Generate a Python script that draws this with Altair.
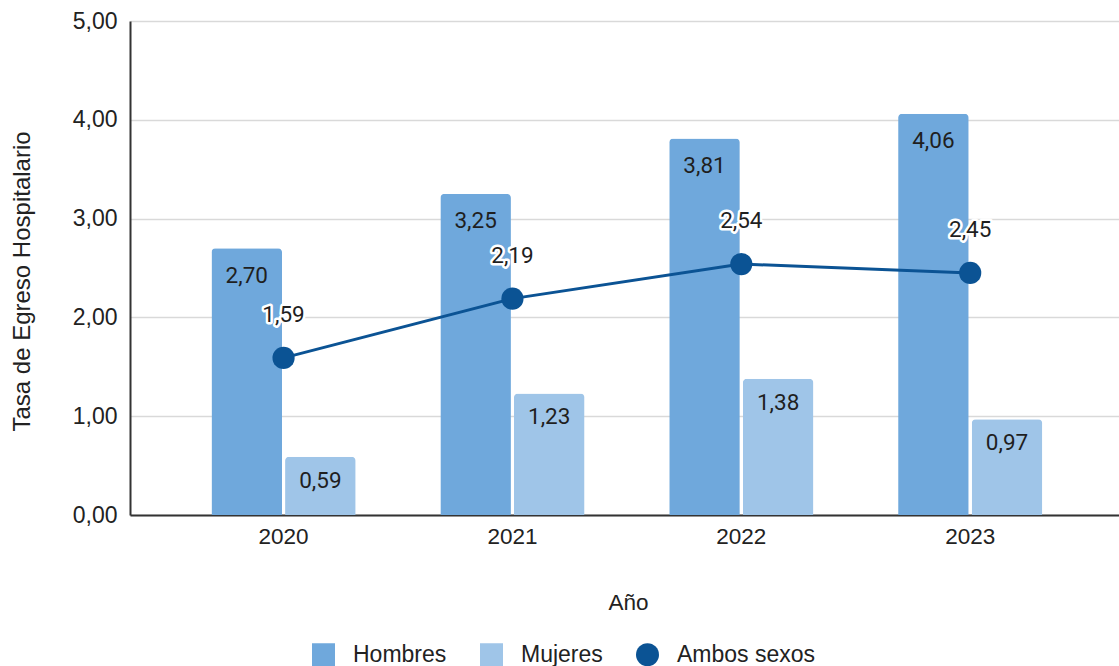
import altair as alt
import pandas as pd

years = ["2020", "2021", "2022", "2023"]
hombres = [2.70, 3.25, 3.81, 4.06]
mujeres = [0.59, 1.23, 1.38, 0.97]
ambos = [1.59, 2.19, 2.54, 2.45]
series = ["Hombres", "Mujeres", "Ambos sexos"]
colors = ["#6fa8dc", "#9fc5e8", "#0b5394"]
shapes = ["square", "square", "circle"]
y_ticks = [0, 1, 2, 3, 4, 5]

bars_df = pd.DataFrame({
    "Año": years * 2,
    "Serie": ["Hombres"] * 4 + ["Mujeres"] * 4,
    "Valor": hombres + mujeres,
})
line_df = pd.DataFrame({"Año": years, "Serie": ["Ambos sexos"] * 4, "Valor": ambos})

label_expr = "replace(format(datum.Valor, '.2f'), '.', ',')"
FONT = "Liberation Sans"
LFONT = "Roboto"

x_enc = alt.X(
    "Año:N",
    sort=years,
    scale=alt.Scale(paddingInner=0.37, paddingOuter=0.3455, align=0.515),
    axis=alt.Axis(
        title="Año", labelAngle=0, ticks=False, tickSize=0, labelPadding=10,
        labelFont=FONT, labelFontSize=22.5, labelColor="#222222",
        domainColor="#333333", domainWidth=2, grid=False,
        titleFont=FONT, titleFontSize=22.5, titleFontWeight="normal", titleColor="#222222",
        titleX=498, titleY=87, titleBaseline="middle", titleAlign="center",
    ),
)
y_enc = alt.Y(
    "Valor:Q",
    scale=alt.Scale(domain=[0, 5], nice=False),
    axis=alt.Axis(
        title="Tasa de Egreso Hospitalario", values=y_ticks,
        labelExpr="replace(format(datum.value, '.2f'), '.', ',')",
        ticks=False, tickSize=0, labelPadding=13,
        labelFont=FONT, labelFontSize=23, labelColor="#222222",
        domainColor="#333333", domainWidth=2,
        grid=True, gridColor="#d9d9d9", gridWidth=1.5,
        titleFont=FONT, titleFontSize=24, titleFontWeight="normal", titleColor="#222222",
        titleX=-108, titleY=260, titleAngle=270, titleBaseline="middle", titleAlign="center",
    ),
)
leg = alt.Legend(
    title=None, orient="none", legendX=182, legendY=622, direction="horizontal",
    symbolSize=529, symbolStrokeWidth=0, symbolOpacity=1,
    labelFont=FONT, labelFontSize=23, labelColor="#222222",
    labelOffset=18, columnPadding=33, padding=0,
)
color_enc = alt.Color("Serie:N", scale=alt.Scale(domain=series, range=colors), legend=leg)
shape_enc = alt.Shape("Serie:N", scale=alt.Scale(domain=series, range=shapes), legend=leg)
xoff = alt.XOffset("Serie:N", sort=["Hombres", "Mujeres"],
                   scale=alt.Scale(domain=["Hombres", "Mujeres"], paddingInner=0.041))

base_b = alt.Chart(bars_df).transform_calculate(lab=label_expr)

bars = base_b.mark_bar(cornerRadiusTopLeft=4, cornerRadiusTopRight=4).encode(
    x=x_enc, xOffset=xoff, y=y_enc, color=color_enc
)
lab_h = base_b.transform_filter("datum.Serie == 'Hombres'").mark_text(
    dy=27.5, baseline="middle", align="center", font=LFONT, fontSize=22.5, color="#1f1f1f"
).encode(x=alt.X("Año:N", sort=years), xOffset=xoff, y="Valor:Q", text="lab:N")
lab_m = base_b.transform_filter("datum.Serie == 'Mujeres'").mark_text(
    dy=24, baseline="middle", align="center", font=LFONT, fontSize=22.5, color="#1f1f1f"
).encode(x=alt.X("Año:N", sort=years), xOffset=xoff, y="Valor:Q", text="lab:N")

base_l = alt.Chart(line_df).transform_calculate(lab=label_expr)
line = base_l.mark_line(color="#0b5394", strokeWidth=3).encode(
    x=alt.X("Año:N", sort=years), y="Valor:Q"
)
pts = base_l.mark_point(filled=True, size=491, opacity=1, strokeWidth=0).encode(
    x=alt.X("Año:N", sort=years), y="Valor:Q", color=color_enc, shape=shape_enc
)
halo = base_l.mark_text(
    dy=-43, baseline="middle", align="center", font=LFONT, fontSize=22.5,
    color="#1f1f1f", stroke="white", strokeWidth=5, strokeJoin="round"
).encode(x=alt.X("Año:N", sort=years), y="Valor:Q", text="lab:N")
ltxt = base_l.mark_text(
    dy=-43, baseline="middle", align="center", font=LFONT, fontSize=22.5, color="#1f1f1f"
).encode(x=alt.X("Año:N", sort=years), y="Valor:Q", text="lab:N")

chart = alt.layer(bars, lab_h, lab_m, line, pts, halo, ltxt).properties(
    width=989, height=494,
    autosize=alt.AutoSizeParams(type="none"),
    padding={"left": 130, "top": 21, "right": 0, "bottom": 151},
    background="white",
).configure_view(stroke=None)

chart.save("out.html", embed_options={"renderer": "svg", "actions": False})
